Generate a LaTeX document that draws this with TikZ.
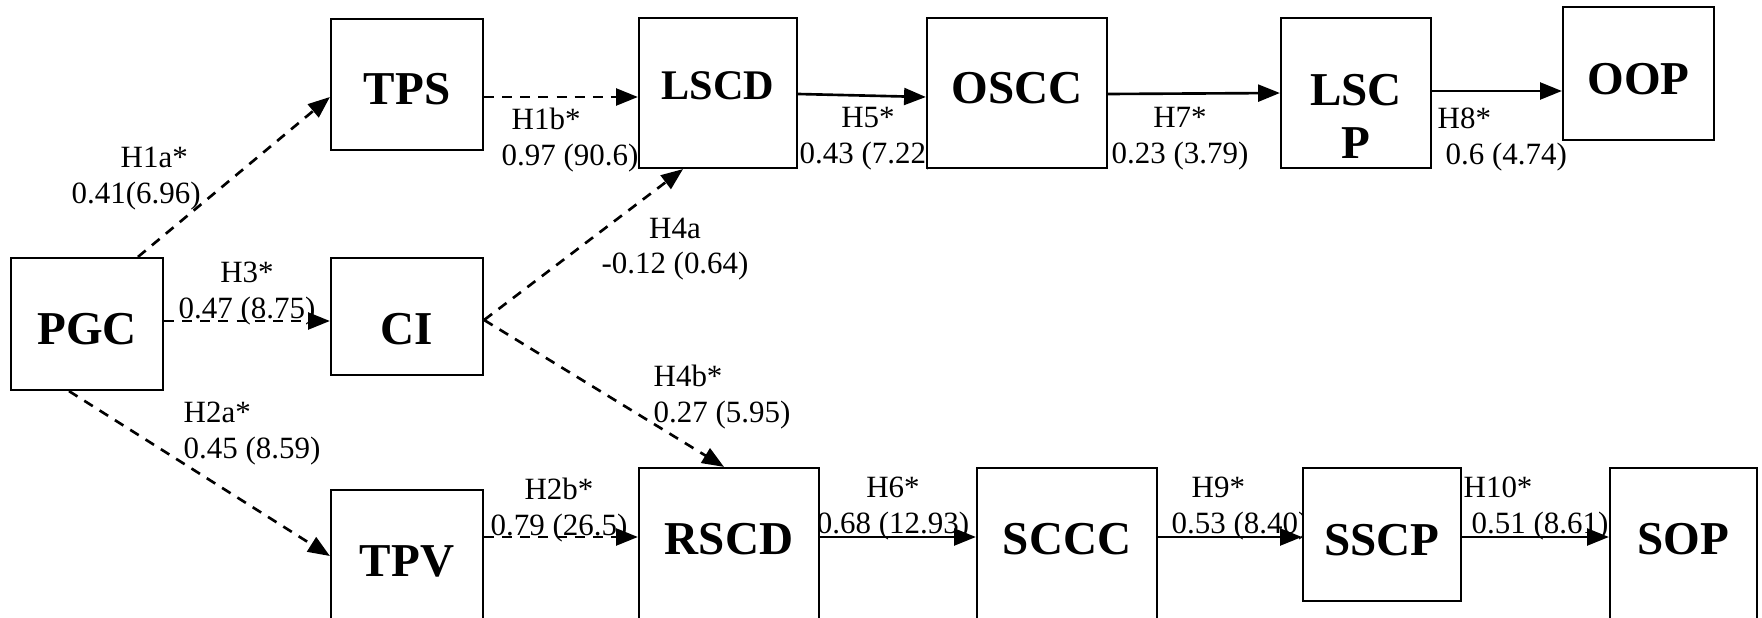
\documentclass[tikz,border=0pt]{standalone}
\usepackage{fontspec}
\setmainfont{Liberation Serif}
\usetikzlibrary{arrows.meta,calc}

\begin{document}
\begin{tikzpicture}[x=0.01cm, y=-0.01cm,
    construct/.style={draw, line width=0.6pt, fill=white, inner sep=0pt, align=center,
                font=\bfseries\fontsize{13.4}{15}\selectfont},
    coef/.style={inner sep=0pt, align=center, anchor=north,
                font=\fontsize{8.8}{10.2}\selectfont},
    sig/.style={-{Triangle[length=6.2pt,width=4.8pt]}, line width=0.75pt},
    nsig/.style={sig, dash pattern=on 2.85pt off 2.3pt}
]
\useasboundingbox (0,0) rectangle (1762,618);
\clip (0,0) rectangle (1762,618);

% path coefficients (drawn first, boxes cover them)
\node[coef, anchor=north west, align=left] (h1a) at (71,146) {\hspace*{0.49cm}H1a*\\0.41(6.96)};
\node[coef, anchor=north west, align=left] (h1b) at (501,107) {\hspace*{0.1cm}H1b*\\0.97 (90.6)};
\node[coef] (h3) at (247,261) {H3*\\0.47 (8.75)};
\node[coef] (h4a) at (675,217) {H4a\\-0.12 (0.64)};
\node[coef] (h5) at (868,107) {H5*\\0.43 (7.22)};
\node[coef] (h7) at (1180,107) {H7*\\0.23 (3.79)};
\node[coef, anchor=north west, align=left] (h8) at (1437,107) {H8*\\\hspace*{0.08cm}0.6 (4.74)};
\node[coef, anchor=north west, align=left] (h2a) at (183,401) {H2a*\\0.45 (8.59)};
\node[coef] (h2b) at (559,477) {H2b*\\0.79 (26.5)};
\node[coef, anchor=north west, align=left] (h4b) at (653,364) {H4b*\\0.27 (5.95)};
\node[coef] (h6) at (893,476) {H6*\\0.68 (12.93)};
\node[coef, anchor=north west, align=left] (h9) at (1171,476) {\hspace*{0.2cm}H9*\\0.53 (8.40)};
\node[coef, anchor=north west, align=left] (h10) at (1463,476) {H10*\\\hspace*{0.08cm}0.51 (8.61)};

% constructs
\node[construct, minimum width=1.52cm, minimum height=1.32cm, text height=0.41cm] (PGC) at (87,324) {PGC};
\node[construct, minimum width=1.52cm, minimum height=1.31cm, text height=0.40cm] (TPS) at (407,84.5) {TPS};
\node[construct, minimum width=1.52cm, minimum height=1.17cm, text height=0.56cm] (CI) at (407,316.5) {CI};
\node[construct, minimum width=1.52cm, minimum height=1.32cm, text height=0.41cm] (TPV) at (407,556) {TPV};
\node[construct, minimum width=1.58cm, minimum height=1.50cm, text depth=0.14cm,
      font=\bfseries\fontsize{12}{14}\selectfont] (LSCD) at (718,93) {LSCD};
\node[construct, minimum width=1.80cm, minimum height=1.50cm, text depth=0.1cm] (OSCC) at (1017,93) {OSCC};
\node[construct, minimum width=1.50cm, minimum height=1.50cm, text height=1.30cm, text depth=0pt] (LSCP) at (1356,93) {LSC\\P};
\node[construct, minimum width=1.51cm, minimum height=1.33cm, text height=0.42cm] (OOP) at (1638.5,73.5) {OOP};
\node[construct, minimum width=1.80cm, minimum height=1.54cm, text depth=0.12cm] (RSCD) at (729,545) {RSCD};
\node[construct, minimum width=1.80cm, minimum height=1.54cm, text depth=0.12cm] (SCCC) at (1067,545) {SCCC};
\node[construct, minimum width=1.58cm, minimum height=1.33cm, text height=0.42cm] (SSCP) at (1382,534.5) {SSCP};
\node[construct, minimum width=1.47cm, minimum height=1.54cm, text depth=0.12cm] (SOP) at (1683.5,545) {SOP};

% paths
\draw[nsig] ($(PGC.north)+(51,0)$) -- ($(TPS.west)+(0,12.5)$);
\draw[nsig] ($(PGC.east)+(0,-3)$) -- ($(CI.west)+(0,4.5)$);
\draw[nsig] ($(PGC.south)+(-18,0)$) -- (TPV.west);
\draw[nsig] ($(TPS.east)+(0,12.5)$) -- ($(LSCD.west)+(0,4)$);
\draw[nsig] ($(CI.east)+(0,3.5)$) -- ($(LSCD.south)+(-35,0)$);
\draw[nsig] ($(CI.east)+(0,3.5)$) -- ($(RSCD.north)+(-5,0)$);
\draw[nsig] ($(TPV.east)+(0,-19)$) -- ($(RSCD.west)+(0,-8)$);
\draw[sig] ($(LSCD.east)+(0,1)$) -- ($(OSCC.west)+(0,4)$);
\draw[sig] ($(OSCC.east)+(0,1)$) -- (LSCP.west);
\draw[sig] ($(LSCP.east)+(0,-2)$) -- ($(OOP.west)+(0,17.5)$);
\draw[sig] ($(RSCD.east)+(0,-8)$) -- ($(SCCC.west)+(0,-8)$);
\draw[sig] ($(SCCC.east)+(0,-8)$) -- ($(SSCP.west)+(0,2.5)$);
\draw[sig] ($(SSCP.east)+(0,2.5)$) -- ($(SOP.west)+(0,-8)$);
\end{tikzpicture}
\end{document}
